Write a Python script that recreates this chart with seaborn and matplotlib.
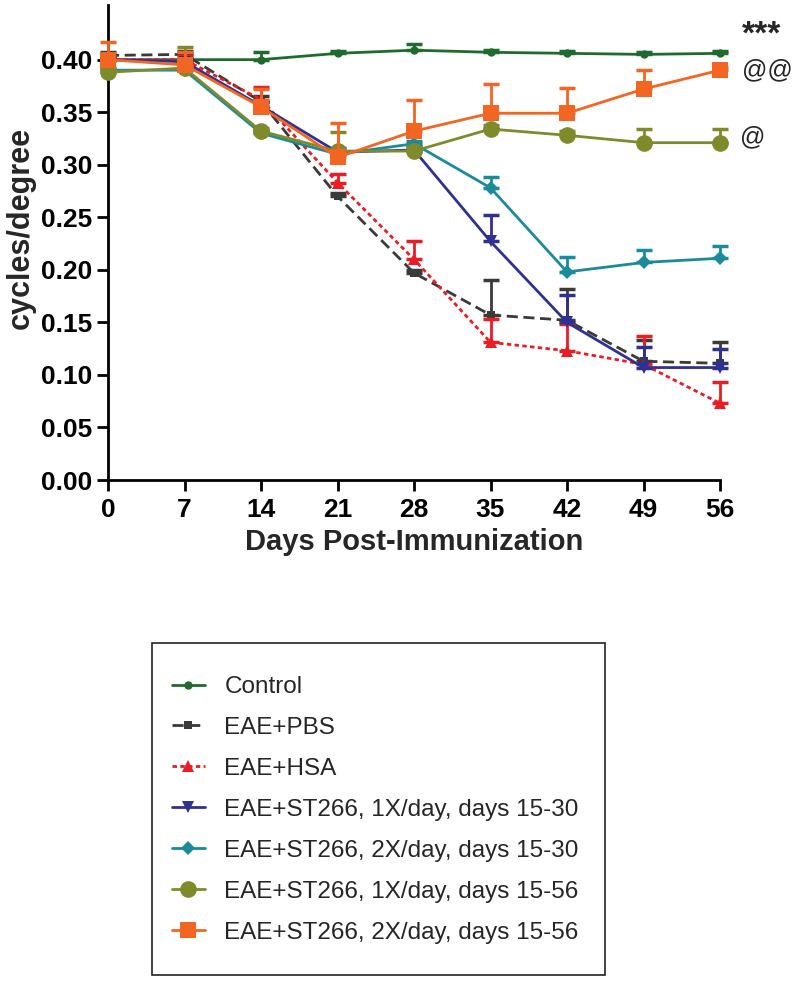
# plot.py
# Visual acuity (cycles/degree) vs days post-immunization, EAE + ST266 groups

import numpy as np
import pandas as pd
import seaborn as sns
from matplotlib import pyplot as plt
from matplotlib.patches import Rectangle

# data
days = [0, 7, 14, 21, 28, 35, 42, 49, 56]

groups = ['Control', 'EAE+PBS', 'EAE+HSA',
          'EAE+ST266, 1X/day, days 15-30',
          'EAE+ST266, 2X/day, days 15-30',
          'EAE+ST266, 1X/day, days 15-56',
          'EAE+ST266, 2X/day, days 15-56']

control       = [0.400, 0.400, 0.400, 0.406, 0.409, 0.407, 0.406, 0.405, 0.406]
control_err   = [0.003, 0.002, 0.007, 0.002, 0.006, 0.002, 0.002, 0.002, 0.002]
pbs           = [0.404, 0.405, 0.360, 0.270, 0.197, 0.157, 0.152, 0.113, 0.111]
pbs_err       = [0.003, 0.003, 0.005, 0.003, 0.003, 0.033, 0.030, 0.020, 0.020]
hsa           = [0.400, 0.400, 0.362, 0.283, 0.210, 0.131, 0.123, 0.110, 0.073]
hsa_err       = [0.003, 0.003, 0.012, 0.008, 0.017, 0.022, 0.025, 0.027, 0.020]
st_1x_1530    = [0.400, 0.398, 0.356, 0.312, 0.314, 0.227, 0.150, 0.107, 0.107]
st_1x_1530_err= [0.002, 0.002, 0.004, 0.004, 0.004, 0.025, 0.026, 0.020, 0.018]
st_2x_1530    = [0.390, 0.390, 0.330, 0.310, 0.320, 0.278, 0.198, 0.207, 0.211]
st_2x_1530_err= [0.002, 0.002, 0.003, 0.003, 0.003, 0.010, 0.014, 0.012, 0.012]
st_1x_1556    = [0.388, 0.392, 0.332, 0.313, 0.313, 0.334, 0.328, 0.321, 0.321]
st_1x_1556_err= [0.004, 0.020, 0.003, 0.018, 0.004, 0.004, 0.004, 0.013, 0.013]
st_2x_1556    = [0.400, 0.395, 0.355, 0.307, 0.332, 0.349, 0.349, 0.372, 0.390]
st_2x_1556_err= [0.017, 0.012, 0.017, 0.033, 0.030, 0.028, 0.024, 0.018, 0.003]

means = [control, pbs, hsa, st_1x_1530, st_2x_1530, st_1x_1556, st_2x_1556]
errs  = [control_err, pbs_err, hsa_err, st_1x_1530_err, st_2x_1530_err,
         st_1x_1556_err, st_2x_1556_err]

# styles per group
colors  = ['#1f6b2e', '#3a3a3a', '#ec1c24', '#2e3192', '#1b8a9b', '#7f8b2b', '#f26522']
markers = ['o', 's', '^', 'v', 'D', 'o', 's']
msizes  = [6, 6, 8, 8, 7, 12, 11]
dashes  = ['-', (0, (4, 2)), (0, (1.6, 1.2)), '-', '-', '-', '-']

df = pd.DataFrame({
    'day':   np.tile(days, len(groups)),
    'value': np.concatenate(means),
    'err':   np.concatenate(errs),
    'group': np.repeat(groups, len(days)),
})

sns.set_style('ticks')
plt.rcParams['font.family'] = ['Liberation Sans', 'DejaVu Sans']

fig = plt.figure(figsize=(8, 9.81), dpi=100)
ax = fig.add_axes([108/800, 1-480/981, 612/800, 475/981])

handles = []
for i, g in enumerate(groups):
    sub = df[df['group'] == g]
    z = 3 + i
    # upper error bars only
    ax.errorbar(sub['day'], sub['value'], yerr=[np.zeros(len(sub)), sub['err']],
                fmt='none', ecolor=colors[i], elinewidth=2, capsize=6,
                capthick=2.5, zorder=z, clip_on=False)
    sns.lineplot(data=sub, x='day', y='value', ax=ax, color=colors[i],
                 marker=markers[i], markersize=msizes[i], markeredgewidth=0,
                 linewidth=2, linestyle=dashes[i], zorder=z + 0.5,
                 clip_on=False, legend=False)
    handles.append(ax.lines[-1])

# axes formatting
ax.set_xlim(0, 56)
ax.set_ylim(0, 0.452)
ax.set_xticks(days)
ax.set_yticks(np.arange(0, 0.401, 0.05))
ax.set_yticklabels(['%.2f' % t for t in np.arange(0, 0.401, 0.05)])
ax.tick_params(axis='both', width=2, length=8, labelsize=19, colors='black')
ax.tick_params(axis='x', pad=5)
for lbl in ax.get_xticklabels() + ax.get_yticklabels():
    lbl.set_fontweight('bold')
sns.despine(ax=ax)
for side in ['left', 'bottom']:
    ax.spines[side].set_linewidth(2)
    ax.spines[side].set_color('black')
ax.set_xlabel('Days Post-Immunization', fontsize=21, fontweight='bold', labelpad=4)
ax.set_ylabel('cycles/degree', fontsize=22, fontweight='bold')
ax.yaxis.set_label_coords(-0.118, 0.53)

# significance marks
ax.text(58.0, 0.423, '***', fontsize=24, fontweight='bold', va='center', clip_on=False)
ax.text(58.0, 0.390, '@@', fontsize=18, va='center', clip_on=False)
ax.text(57.8, 0.326, '@', fontsize=18, va='center', clip_on=False)

# legend below the plot, in its own box
fig.patches.append(Rectangle((152/800, 1-975/981), 453/800, 332/981,
                             transform=fig.transFigure, fill=False,
                             edgecolor='#222222', linewidth=1.2))
leg = fig.legend(handles, groups, loc='upper left',
                 bbox_to_anchor=(172/800, 1-676/981), fontsize=17.5,
                 frameon=False, handlelength=1.35, handletextpad=0.8,
                 labelspacing=0.78, borderpad=0, borderaxespad=0)

plt.savefig('out.png', dpi=100)
